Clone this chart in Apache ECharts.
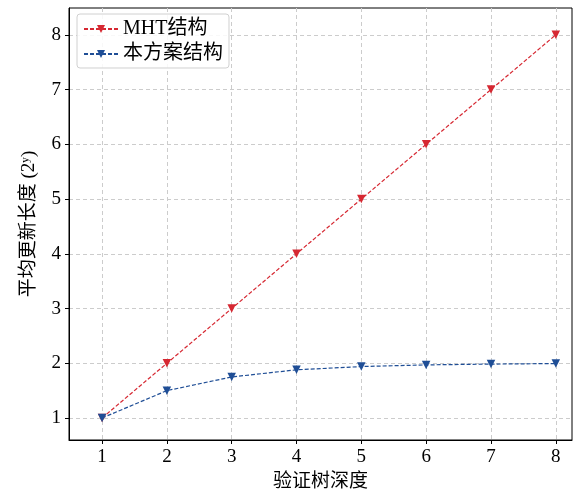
<!DOCTYPE html>
<html>
<head>
<meta charset="utf-8">
<script src="https://cdn.jsdelivr.net/npm/echarts@6/dist/echarts.min.js"></script>
<style>
  html, body { margin: 0; padding: 0; background: #fff; }
  #chart { width: 573px; height: 494px; }
</style>
</head>
<body>
<div id="chart"></div>
<script>
const depths = [1, 2, 3, 4, 5, 6, 7, 8]
const mhtValues = [1, 2, 3, 4, 5, 6, 7, 8]
const oursValues = [1, 1.5, 1.75, 1.88, 1.94, 1.97, 1.985, 1.995]
const xTicks = [1, 2, 3, 4, 5, 6, 7, 8]
const yTicks = [1, 2, 3, 4, 5, 6, 7, 8]

const FONT = "'Liberation Serif', 'Noto Sans CJK SC', serif"
const RED = '#d62832'
const BLUE = '#1f4e96'

const chart = echarts.init(document.getElementById('chart'))

const mkSeries = (name, values, color) => ({
  name,
  type: 'line',
  data: depths.map((d, i) => [d, values[i]]),
  symbol: 'triangle',
  symbolRotate: 180,
  symbolSize: 8.5,
  itemStyle: { color },
  lineStyle: { color, width: 1.2, type: [4, 2] },
  animation: false
})

const gridLine = { show: true, lineStyle: { color: '#cccccc', type: [4, 3], width: 1 } }

chart.setOption({
  textStyle: { fontFamily: FONT },
  grid: {
    left: 69, right: 1, top: 8, bottom: 54,
    outerBoundsMode: 'none',
    show: true, borderColor: '#000', borderWidth: 1
  },
  legend: {
    left: 77, top: 14, orient: 'vertical',
    itemWidth: 34, itemHeight: 10, itemGap: 5,
    padding: [5, 6, 4, 6],
    borderColor: '#d0d0d0', borderWidth: 1, borderRadius: 3,
    backgroundColor: 'rgba(255,255,255,0.85)',
    textStyle: { fontFamily: FONT, fontSize: 20, color: '#000' }
  },
  xAxis: {
    type: 'value', min: 0.49, max: 8.25,
    name: '验证树深度', nameLocation: 'middle', nameGap: 33,
    nameTextStyle: { fontFamily: FONT, fontSize: 19, color: '#000' },
    axisLine: { lineStyle: { color: '#000' } },
    axisTick: { show: true, customValues: xTicks, length: 4, lineStyle: { color: '#000' } },
    axisLabel: { customValues: xTicks, fontFamily: FONT, fontSize: 19, color: '#000', margin: 8 },
    splitLine: gridLine
  },
  yAxis: {
    type: 'value', min: 0.598, max: 8.49,
    name: '平均更新长度 (2ʸ)', nameLocation: 'middle', nameGap: 30,
    nameTextStyle: { fontFamily: FONT, fontSize: 19, color: '#000' },
    axisLine: { show: true, lineStyle: { color: '#000' } },
    axisTick: { show: true, customValues: yTicks, length: 4, lineStyle: { color: '#000' } },
    axisLabel: { customValues: yTicks, fontFamily: FONT, fontSize: 19, color: '#000', margin: 8 },
    splitLine: gridLine
  },
  series: [
    mkSeries('MHT结构', mhtValues, RED),
    mkSeries('本方案结构', oursValues, BLUE)
  ]
})
</script>
</body>
</html>
